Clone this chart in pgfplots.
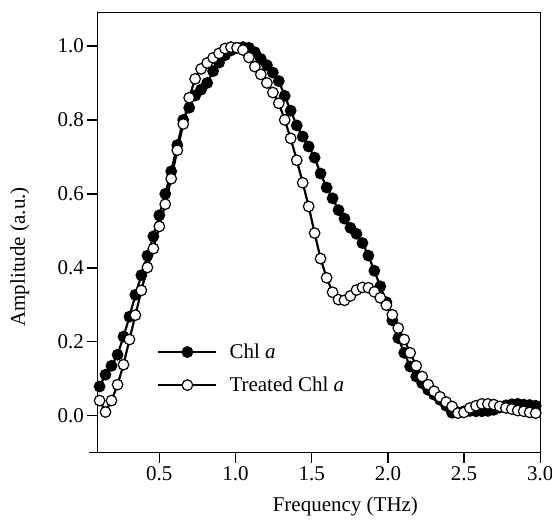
\documentclass[border=0pt]{standalone}
\usepackage{fontspec}
\setmainfont{Liberation Serif}
\usepackage{pgfplots}
\usepackage{pgfplotstable}
\pgfplotsset{compat=1.18}

% x (THz), Chl a, treated Chl a
\pgfplotstableread{
x     chl    trt
0.108 0.079  0.041
0.147 0.111  0.010
0.186 0.135  0.041
0.226 0.165  0.084
0.265 0.214  0.138
0.304 0.268  0.206
0.343 0.327  0.272
0.382 0.380  0.339
0.422 0.433  0.401
0.461 0.485  0.452
0.500 0.542  0.512
0.539 0.600  0.572
0.578 0.661  0.641
0.618 0.732  0.718
0.657 0.800  0.789
0.696 0.833  0.860
0.735 0.866  0.911
0.774 0.882  0.938
0.814 0.900  0.954
0.853 0.932  0.968
0.892 0.955  0.980
0.931 0.975  0.993
0.970 0.988  0.997
1.010 0.995  0.995
1.049 0.997  0.989
1.088 0.995  0.969
1.127 0.983  0.944
1.166 0.965  0.923
1.206 0.948  0.900
1.245 0.928  0.874
1.284 0.905  0.845
1.323 0.865  0.800
1.362 0.825  0.750
1.402 0.785  0.691
1.441 0.755  0.630
1.480 0.728  0.566
1.519 0.698  0.494
1.558 0.655  0.425
1.598 0.617  0.373
1.637 0.588  0.334
1.676 0.556  0.314
1.715 0.533  0.312
1.754 0.508  0.324
1.794 0.492  0.340
1.833 0.467  0.347
1.872 0.433  0.346
1.911 0.392  0.335
1.950 0.350  0.319
1.990 0.307  0.299
2.029 0.258  0.273
2.068 0.210  0.237
2.107 0.170  0.206
2.146 0.133  0.170
2.186 0.106  0.135
2.225 0.088  0.106
2.264 0.070  0.084
2.303 0.057  0.066
2.342 0.043  0.051
2.382 0.027  0.037
2.421 0.008  0.025
2.460 0.009  0.007
2.499 0.012  0.009
2.538 0.013  0.021
2.578 0.012  0.027
2.617 0.012  0.032
2.656 0.013  0.032
2.695 0.016  0.030
2.734 0.022  0.025
2.774 0.028  0.021
2.813 0.031  0.018
2.852 0.032  0.014
2.891 0.030  0.012
2.930 0.029  0.009
2.970 0.027  0.007
}\datatable

\begin{document}
\begin{tikzpicture}
\begin{axis}[
    scale only axis,
    width=443pt, height=440pt,
    xmin=0.093, xmax=3.0,
    ymin=-0.1, ymax=1.09,
    clip=false,
    font=\fontsize{21}{25}\selectfont,
    axis line style={line width=1.4pt},
    xtick={0.5,1.0,...,3.0},
    ytick={0,0.2,...,1.0},
    xtick pos=bottom, ytick pos=left,
    tick align=outside,
    major tick length=10pt,
    tick style={line width=1.4pt, black},
    /pgf/number format/assume math mode=true,
    /pgf/number format/fixed,
    /pgf/number format/fixed zerofill,
    /pgf/number format/precision=1,
    xlabel={Frequency (THz)},
    ylabel={Amplitude (a.u.)},
    xlabel style={at={(axis description cs:0.56,0)}, anchor=north,
        yshift=-44pt, inner sep=0pt},
    ylabel style={at={(axis description cs:-0.197,0.445)}, anchor=north,
        rotate=0, inner sep=0pt},
    legend style={draw=none, fill=none, at={(axis description cs:0.135,0.252)},
        anchor=north west, font=\fontsize{21}{25}\selectfont,
        row sep=13pt, inner sep=0pt},
    legend cell align=left,
    legend image code/.code={
        \draw[mark repeat=2, mark phase=2] plot coordinates {(0pt,0pt) (29pt,0pt) (58pt,0pt)};
        \path (68pt,0pt);
    },
]
\addplot[black, line width=2.2pt, mark=*, mark size=5.3pt,
    mark options={solid, fill=black, line width=1.2pt}]
    table[x=x, y=chl] {\datatable};
\addlegendentry{Chl \textit{a}}

\addplot[black, line width=2.2pt, mark=*, mark size=5.3pt,
    mark options={solid, fill=white, line width=1.2pt}]
    table[x=x, y=trt] {\datatable};
\addlegendentry{Treated Chl \textit{a}}
\end{axis}
\draw[line width=1.4pt] (-8pt,0pt) -- (0pt,0pt);
\pgfresetboundingbox
\path (-97.3pt,-68.3pt) rectangle (454.7pt,452.7pt);
\end{tikzpicture}
\end{document}
